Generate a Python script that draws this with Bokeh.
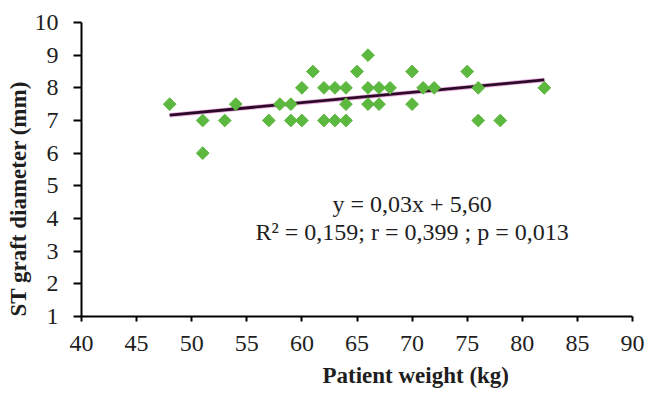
import numpy as np
from bokeh.plotting import figure
from bokeh.models import FixedTicker, Range1d, Title
from bokeh.core.properties import value
from bokeh.embed import file_html
from bokeh.resources import INLINE

weight = [48, 51, 51, 53, 54, 57, 58, 59, 59, 60, 60, 61, 62, 62, 63, 63, 64, 64, 64,
          65, 66, 66, 66, 67, 67, 68, 70, 70, 71, 72, 75, 76, 76, 78, 82]
diameter = [7.5, 7, 6, 7, 7.5, 7, 7.5, 7.5, 7, 8, 7, 8.5, 8, 7, 8, 7, 8, 7.5, 7,
            8.5, 9, 8, 7.5, 8, 7.5, 8, 8.5, 7.5, 8, 8, 8.5, 8, 7, 7, 8]
x_ticks = [40, 45, 50, 55, 60, 65, 70, 75, 80, 85, 90]
y_ticks = [1, 2, 3, 4, 5, 6, 7, 8, 9, 10]
eq_lines = ["y = 0,03x + 5,60", "R\u00b2 = 0,159; r = 0,399 ; p = 0,013"]
eq_x = [70.0, 70.0]
eq_y = [4.44, 3.6]
x_title = "Patient weight (kg)"
y_title = "ST graft diameter (mm)"

FONT = "Liberation Serif"
TXT = "#1e1e1e"

p = figure(width=653, height=394, output_backend="svg", toolbar_location=None,
           x_range=Range1d(40, 90), y_range=Range1d(1, 10),
           min_border_left=81, min_border_right=21, min_border_top=22, min_border_bottom=78)
p.outline_line_color = None
p.grid.visible = False
p.background_fill_color = "white"

# trendline (least squares on the data)
slope, intercept = np.polyfit(weight, diameter, 1)
tx = np.array([min(weight), max(weight)])
p.line(tx, slope * tx + intercept + 0.05, line_color="#e070c8", line_width=4.5, line_alpha=0.6)
p.line(tx, slope * tx + intercept + 0.05, line_color="#2a0a26", line_width=2.8)

p.scatter(weight, diameter, marker="square", angle=np.pi / 4, size=9,
          fill_color="#5cb83e", line_color="#5cb83e")

p.text(eq_x, eq_y, text=eq_lines, text_align="center", text_baseline="middle",
       text_font=value(FONT), text_font_size="24px", text_color=TXT)

for ax in (p.xaxis[0], p.yaxis[0]):
    ax.axis_line_width = 2
    ax.axis_line_color = "black"
    ax.major_tick_line_color = "black"
    ax.major_tick_line_width = 2
    ax.major_tick_in = 0
    ax.minor_tick_line_color = None
    ax.major_label_text_font = FONT
    ax.major_label_text_font_size = "24px"
    ax.major_label_text_color = TXT

p.xaxis.ticker = FixedTicker(ticks=x_ticks)
p.yaxis.ticker = FixedTicker(ticks=y_ticks)
p.xaxis.major_tick_out = 5
p.yaxis.major_tick_out = 8
p.xaxis.major_label_standoff = 14
p.yaxis.major_label_standoff = 15

p.add_layout(Title(text=x_title, align="left", offset=241, standoff=14,
                   text_font=FONT, text_font_style="bold", text_font_size="23px",
                   text_color=TXT), "below")
p.add_layout(Title(text=y_title, align="left", offset=0, standoff=1,
                   text_font=FONT, text_font_style="bold", text_font_size="23px",
                   text_color=TXT), "left")

open("out.html", "w").write(file_html(p, INLINE))
